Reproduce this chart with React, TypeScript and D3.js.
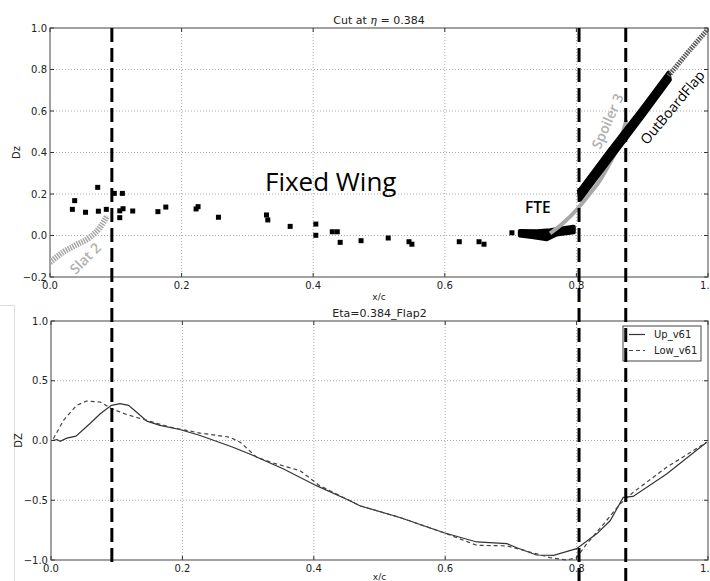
import React from 'react';
import * as d3 from 'd3';

// ---- data ----
const xTicks = [0, 0.2, 0.4, 0.6, 0.8, 1.0];
const topYTicks = [-0.2, 0, 0.2, 0.4, 0.6, 0.8, 1.0];
const botYTicks = [-1.0, -0.5, 0, 0.5, 1.0];

// component boundaries (x/c)
const dividers = [0.094, 0.804, 0.875];

// fixed wing cut points [x/c, Dz]
const fixedWing: [number, number][] = [
  [0.034, 0.126], [0.0375, 0.168], [0.054, 0.112], [0.0725, 0.232], [0.0735, 0.117],
  [0.0856, 0.126], [0.0977, 0.203], [0.11, 0.203], [0.106, 0.119], [0.111, 0.129],
  [0.106, 0.086], [0.1257, 0.118], [0.164, 0.115], [0.176, 0.137], [0.222, 0.128],
  [0.225, 0.139], [0.256, 0.088], [0.329, 0.099], [0.331, 0.075], [0.365, 0.044],
  [0.404, 0.055], [0.404, 0.001], [0.429, 0.018], [0.4366, 0.018], [0.441, -0.033],
  [0.4727, -0.025], [0.514, -0.012], [0.5456, -0.03], [0.55, -0.042], [0.622, -0.03],
  [0.652, -0.03], [0.6596, -0.042], [0.702, 0.013],
];

const slat2: [number, number][] = [
  [0.0, -0.13], [0.02, -0.08], [0.04, -0.045], [0.06, -0.01], [0.075, 0.035], [0.087, 0.095],
];

const fteUpper: [number, number][] = [
  [0.714, 0.022], [0.74, 0.02], [0.76, 0.025], [0.78, 0.035], [0.796, 0.042],
];
const fteLower: [number, number][] = [
  [0.714, 0.0], [0.735, -0.008], [0.755, -0.018], [0.77, 0.005], [0.796, 0.015],
];

const spoiler3: [number, number][] = [
  [0.76, 0.01], [0.78, 0.06], [0.80, 0.123], [0.82, 0.2], [0.836, 0.267],
  [0.851, 0.35], [0.865, 0.44], [0.876, 0.557],
];

const flapUpper: [number, number][] = [
  [0.804, 0.215], [0.85, 0.41], [0.90, 0.615], [0.94, 0.785],
];
const flapLower: [number, number][] = [
  [0.806, 0.175], [0.85, 0.36], [0.90, 0.57], [0.942, 0.75],
];
const flapTip: [number, number][] = [
  [0.94, 0.77], [0.97, 0.885], [1.0, 0.995],
];

const upV61: [number, number][] = [
  [0.002, 0.0], [0.009, 0.008], [0.014, -0.006], [0.024, 0.02], [0.038, 0.036],
  [0.059, 0.14], [0.075, 0.224], [0.092, 0.294], [0.105, 0.308], [0.118, 0.294],
  [0.13, 0.238], [0.146, 0.162], [0.166, 0.126], [0.196, 0.092], [0.227, 0.042],
  [0.277, -0.056], [0.308, -0.126], [0.354, -0.238], [0.404, -0.378], [0.455, -0.504],
  [0.47, -0.546], [0.531, -0.644], [0.597, -0.77], [0.648, -0.849], [0.694, -0.863],
  [0.709, -0.897], [0.739, -0.958], [0.765, -0.961], [0.8, -0.905], [0.831, -0.779],
  [0.851, -0.672], [0.871, -0.476], [0.886, -0.468], [0.937, -0.28], [0.998, -0.014],
];

const lowV61: [number, number][] = [
  [0.0035, 0.014], [0.019, 0.168], [0.039, 0.294], [0.054, 0.33], [0.075, 0.322],
  [0.092, 0.266], [0.115, 0.218], [0.146, 0.168], [0.181, 0.112], [0.227, 0.062],
  [0.272, 0.028], [0.288, -0.014], [0.313, -0.14], [0.338, -0.188], [0.379, -0.252],
  [0.409, -0.378], [0.455, -0.504], [0.47, -0.546], [0.531, -0.644], [0.597, -0.77],
  [0.648, -0.877], [0.694, -0.882], [0.719, -0.918], [0.7595, -0.98], [0.785, -1.0],
  [0.8, -0.98], [0.815, -0.868], [0.841, -0.7], [0.866, -0.532], [0.886, -0.434],
  [0.937, -0.224], [0.998, -0.014],
];

const FONT = 'DejaVu Sans, sans-serif';
const LABEL_FONT = '"Open Sans", "Noto Sans", sans-serif';

const fmt = (v: number) => (v < 0 ? '\u2212' : '') + Math.abs(v).toFixed(1);

const Panel = ({ x, y, yTicks, title, yLabel, xLabelY, yLabelX }: any) => {
  const [x0, x1] = x.range();
  const [yb, yt] = y.range();
  return (
    <g>
      {/* grid */}
      {xTicks.slice(1, -1).map((t) => (
        <line key={'gx' + t} x1={x(t)} x2={x(t)} y1={yt} y2={yb} stroke="#aaa" strokeDasharray="1,2" />
      ))}
      {yTicks.slice(1, -1).map((t: number) => (
        <line key={'gy' + t} x1={x0} x2={x1} y1={y(t)} y2={y(t)} stroke="#aaa" strokeDasharray="1,2" />
      ))}
      {/* tick marks */}
      {xTicks.map((t) => (
        <g key={'tx' + t}>
          <line x1={x(t)} x2={x(t)} y1={yb} y2={yb - 4} stroke="#333" />
          <line x1={x(t)} x2={x(t)} y1={yt} y2={yt + 4} stroke="#333" />
          <text x={x(t)} y={yb + 12} fontSize={10} fontFamily={FONT} fill="#222" textAnchor="middle">
            {t.toFixed(1)}
          </text>
        </g>
      ))}
      {yTicks.map((t: number) => (
        <g key={'ty' + t}>
          <line x1={x0} x2={x0 + 4} y1={y(t)} y2={y(t)} stroke="#333" />
          <line x1={x1} x2={x1 - 4} y1={y(t)} y2={y(t)} stroke="#333" />
          <text x={x0 - 3} y={y(t) + 3.5} fontSize={10} fontFamily={FONT} fill="#222" textAnchor="end">
            {fmt(t)}
          </text>
        </g>
      ))}
      <rect x={x0} y={yt} width={x1 - x0} height={yb - yt} fill="none" stroke="#444" strokeWidth={1} />
      <text x={(x0 + x1) / 2} y={yt - 4} fontSize={11} fontFamily={FONT} fill="#222" textAnchor="middle">
        {title}
      </text>
      <text x={(x0 + x1) / 2} y={xLabelY} fontSize={9} fontFamily={FONT} fill="#222" textAnchor="middle">
        x/c
      </text>
      <text
        transform={`translate(${yLabelX},${(yt + yb) / 2}) rotate(-90)`}
        fontSize={10}
        fontFamily={FONT}
        fill="#222"
        textAnchor="middle"
      >
        {yLabel}
      </text>
    </g>
  );
};

export default function App() {
  const xTop = d3.scaleLinear().domain([0, 1]).range([50, 708]);
  const yTop = d3.scaleLinear().domain([-0.2, 1]).range([277, 28]);
  const xBot = d3.scaleLinear().domain([0, 1]).range([51, 708]);
  const yBot = d3.scaleLinear().domain([-1, 1]).range([560, 321]);

  const lineTop = d3.line<[number, number]>().x((d) => xTop(d[0])).y((d) => yTop(d[1])).curve(d3.curveMonotoneX);
  const lineTopLin = d3.line<[number, number]>().x((d) => xTop(d[0])).y((d) => yTop(d[1]));
  const lineBot = d3.line<[number, number]>().x((d) => xBot(d[0])).y((d) => yBot(d[1]));

  const band = (up: [number, number][], lo: [number, number][]) =>
    lineTopLin([...up, ...lo.slice().reverse()]) + 'Z';

  return (
    <svg width={710} height={581} style={{ position: 'absolute', left: 0, top: 0, background: '#fff' }}>
      <defs>
        <clipPath id="clipTop">
          <rect x={50} y={28} width={658} height={249} />
        </clipPath>
      </defs>

      <Panel
        x={xTop}
        y={yTop}
        yTicks={topYTicks}
        title={<>Cut at <tspan fontStyle="italic" fontFamily="DejaVu Serif, serif">η</tspan> = 0.384</>}
        yLabel="Dz"
        xLabelY={300}
        yLabelX={20}
      />

      {/* top panel marks */}
      <g clipPath="url(#clipTop)">
        <path d={lineTop(slat2) || ''} fill="none" stroke="#a8a8a8" strokeWidth={6} strokeDasharray="1.5,1" />
        {fixedWing.map((d, i) => (
          <rect key={i} x={xTop(d[0]) - 2.5} y={yTop(d[1]) - 2.5} width={5} height={5} fill="#000" />
        ))}
        <path d={band(fteUpper, fteLower)} fill="#000" stroke="#000" strokeWidth={4} strokeLinejoin="round" />
        <path d={lineTop(spoiler3) || ''} fill="none" stroke="#a8a8a8" strokeWidth={4} />
        <path d={band(flapUpper, flapLower)} fill="#000" stroke="#000" strokeWidth={4} strokeLinejoin="round" />
        <path d={lineTopLin(flapTip) || ''} fill="none" stroke="#555" strokeWidth={5} strokeDasharray="1.5,1" />
      </g>

      <text x={265} y={191} fontSize={26} fontFamily={LABEL_FONT} fill="#000">
        Fixed Wing
      </text>
      <text x={525} y={213} fontSize={15.5} fontWeight={600} fontFamily={LABEL_FONT} fill="#000">
        FTE
      </text>
      <text
        transform="translate(85,258) rotate(-45)"
        fontSize={14}
        fontWeight={600}
        fontFamily={LABEL_FONT}
        fill="#b0b0b0"
        textAnchor="middle"
        dominantBaseline="central"
      >
        Slat 2
      </text>
      <text
        transform="translate(607,121) rotate(-66)"
        fontSize={14}
        fontWeight={600}
        fontFamily={LABEL_FONT}
        fill="#b0b0b0"
        textAnchor="middle"
        dominantBaseline="central"
      >
        Spoiler 3
      </text>
      <text
        transform="translate(672,107) rotate(-50)"
        fontSize={14}
        fontFamily={LABEL_FONT}
        fill="#000"
        textAnchor="middle"
        dominantBaseline="central"
      >
        OutBoardFlap
      </text>

      {/* bottom panel */}
      <path d="M0,305.5 H14.5 V581" fill="none" stroke="#ddd" />
      <Panel
        x={xBot}
        y={yBot}
        yTicks={botYTicks}
        title="Eta=0.384_Flap2"
        yLabel="DZ"
        xLabelY={580}
        yLabelX={22}
      />
      <path d={lineBot(upV61) || ''} fill="none" stroke="#333" strokeWidth={1.2} />
      <path d={lineBot(lowV61) || ''} fill="none" stroke="#444" strokeWidth={1.2} strokeDasharray="4,3" />

      {/* legend */}
      <g>
        <rect x={623} y={326} width={78} height={35} fill="#fff" stroke="#444" />
        <line x1={629} x2={645} y1={334.5} y2={334.5} stroke="#333" strokeWidth={1.2} />
        <text x={654} y={338} fontSize={10} fontFamily={FONT} fill="#222">Up_v61</text>
        <line x1={629} x2={645} y1={350.5} y2={350.5} stroke="#444" strokeWidth={1.2} strokeDasharray="4,3" />
        <text x={654} y={354} fontSize={10} fontFamily={FONT} fill="#222">Low_v61</text>
      </g>

      {/* component boundaries */}
      {dividers.map((d, i) => (
        <line
          key={d}
          x1={xTop(d)}
          x2={xTop(d)}
          y1={28}
          y2={i === 0 ? 564 : 581}
          stroke="#000"
          strokeWidth={3}
          strokeDasharray="14,6"
        />
      ))}
    </svg>
  );
}
